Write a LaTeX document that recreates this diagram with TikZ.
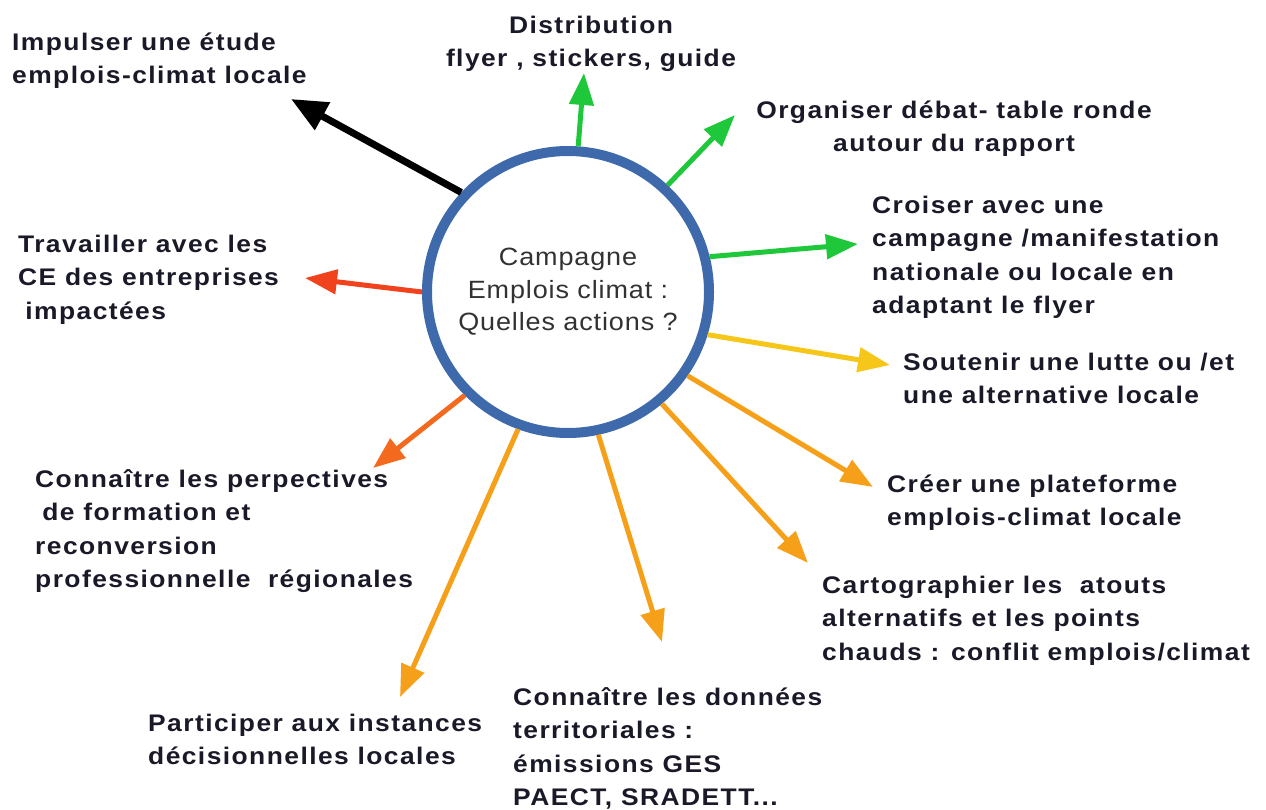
\documentclass[tikz,border=0pt]{standalone}
\usepackage{fontspec}
\setmainfont{Liberation Sans}
\newfontfamily\lblfont{Liberation Sans}[LetterSpace=6,FakeStretch=1.1]
\newfontfamily\ctrfont{Liberation Sans}[LetterSpace=3.5,FakeStretch=1.08]
\usetikzlibrary{arrows.meta}
\definecolor{cblue}{RGB}{62,106,172}
\definecolor{cgreen}{RGB}{30,200,58}
\definecolor{cyellow}{RGB}{246,198,24}
\definecolor{corange}{RGB}{246,160,26}
\definecolor{corred}{RGB}{243,105,30}
\definecolor{cred}{RGB}{240,66,28}
\definecolor{ctext}{RGB}{25,25,40}
\definecolor{cctr}{RGB}{50,50,50}
\tikzset{
  lbl/.style={font=\lblfont\bfseries\fontsize{24}{33.5}\selectfont, text=ctext, align=left, inner sep=0pt, anchor=north west},
  lblc/.style={lbl, align=center, anchor=north},
  arr/.style={line width=5pt, -{Triangle[length=32pt,width=24pt]}},
  bigarr/.style={line width=7pt, -{Triangle[length=36pt,width=30pt]}},
}
\begin{document}
\begin{tikzpicture}[x=1pt,y=-1pt]
\useasboundingbox (0,0) rectangle (1266,810);
\node[circle, draw=cblue, line width=10pt, fill=white, minimum size=282pt, inner sep=0pt,
      font=\ctrfont\fontsize{25}{32.5}\selectfont, text=cctr, align=center] (c) at (568,292)
  {Campagne\\Emplois climat :\\Quelles actions ?};

\node[lbl]  (t1)  at (12,26.5)   {\strut Impulser une étude\\emplois-climat locale};
\node[lblc] (t2)  at (591,9.5)   {\strut Distribution\\flyer , stickers, guide};
\node[lblc] (t3)  at (954,94.5)  {\strut Organiser débat- table ronde\\autour du rapport};
\node[lbl]  (t4)  at (872,189.5) {\strut Croiser avec une\\campagne /manifestation\\nationale ou locale en\\adaptant le flyer};
\node[lbl]  (t5)  at (903,346.5) {\strut Soutenir une lutte ou /et\\une alternative locale};
\node[lbl]  (t6)  at (887,468.5) {\strut Créer une plateforme\\emplois-climat locale};
\node[lbl]  (t7)  at (822,569.5) {\strut Cartographier les\ \ atouts\\alternatifs et les points\\chauds : conflit emplois/climat};
\node[lbl]  (t8)  at (513,681.5) {\strut Connaître les données\\territoriales :\\émissions GES\\PAECT, SRADETT...};
\node[lbl]  (t9)  at (148,707.5) {\strut Participer aux instances\\décisionnelles locales};
\node[lbl]  (t10) at (35,463.5)  {\strut Connaître les perpectives\\\hspace*{0.3em}de formation et\\reconversion\\professionnelle\ \ régionales};
\node[lbl]  (t11) at (18,228.5)  {\strut Travailler avec les\\CE des entreprises\\\hspace*{0.3em}impactées};

\coordinate (e1)  at (291,99);
\coordinate (e2)  at (584,73);
\coordinate (e3)  at (735,115);
\coordinate (e4)  at (858,244);
\coordinate (e5)  at (890,365);
\coordinate (e6)  at (873,487);
\coordinate (e7)  at (808,563);
\coordinate (e8)  at (662,642);
\coordinate (e9)  at (400,697);
\coordinate (e10) at (373,468);
\coordinate (e11) at (305,278);

\draw[bigarr, black]  (c.137.6) -- (e1);
\draw[arr, cgreen]    (c.86.3)  -- (e2);
\draw[arr, cgreen]    (c.47.0)  -- (e3);
\draw[arr, cgreen]    (c.14.0)  -- (e4);
\draw[arr, cyellow]   (c.-17.4) -- (e5);
\draw[arr, corange]   (c.-35.2) -- (e6);
\draw[arr, corange]   (c.-50.3) -- (e7);
\draw[arr, corange]   (c.-78.3) -- (e8);
\draw[arr, corange]   (c.250.1) -- (e9);
\draw[arr, corred]    (c.225.5) -- (e10);
\draw[arr, cred]      (c.180.4) -- (e11);
\end{tikzpicture}
\end{document}
